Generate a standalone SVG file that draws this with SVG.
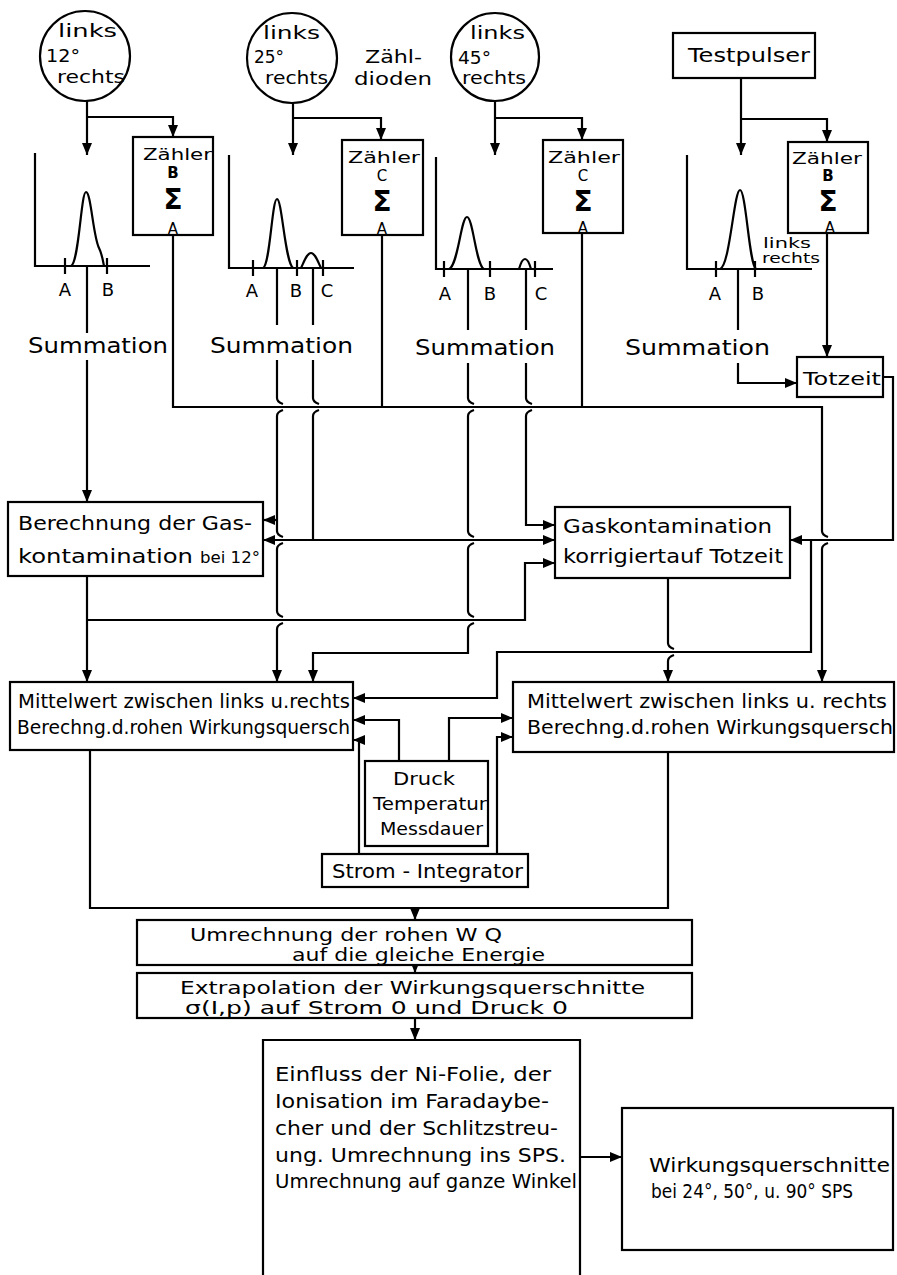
<svg xmlns="http://www.w3.org/2000/svg" width="897" height="1275" viewBox="0 0 897 1275">
<style>
.ln{fill:none;stroke:#000;stroke-width:2.2}
.bx{fill:#fff;stroke:#000;stroke-width:2.2}
.t{font-family:"DejaVu Sans","Liberation Sans",sans-serif;fill:#000}
.s14{font-size:14px}.s15{font-size:15px}.s16{font-size:16px}.s18{font-size:18px}.s19{font-size:19px}.s20{font-size:20px}.s21{font-size:21px}
.sig{font-size:28px;font-weight:bold}
.b{font-weight:bold}
.a{marker-end:url(#ah)}
</style>
<defs>
<marker id="ah" viewBox="0 0 12 10" refX="12" refY="5" markerWidth="12" markerHeight="10" markerUnits="userSpaceOnUse" orient="auto"><path d="M0,0 L12,5 L0,10 z" fill="#000"/></marker>
</defs>
<rect width="897" height="1275" fill="#fff"/>

<g id="connectors">
<path class="ln a" d="M87,101 V155"/>
<path class="ln a" d="M87,117 H173 V137"/>
<path class="ln a" d="M293,103 V155"/>
<path class="ln a" d="M293,118 H381 V140"/>
<path class="ln a" d="M495,101 V155"/>
<path class="ln a" d="M495,118 H582 V140"/>
<path class="ln a" d="M741,78 V155"/>
<path class="ln a" d="M741,119 H827 V142"/>
<path class="ln" d="M87,266 V333"/>
<path class="ln a" d="M87,360 V502"/>
<path class="ln" d="M277,268 V325 M313,268 V325"/>
<path class="ln a" d="M277,360 V398 q0,4 6,6 M283,410 q-6,2 -6,6 V531 q0,4 6,6 M283,543 q-6,2 -6,6 V611 q0,4 6,6 M283,623 q-6,2 -6,6 V682"/>
<path class="ln a" d="M277,520 H263"/>
<path class="ln" d="M313,360 V398 q0,4 6,6 M319,410 q-6,2 -6,6 V540"/>
<path class="ln a" d="M313,540 H263"/>
<path class="ln a" d="M313,540 H555"/>
<path class="ln" d="M468,269 V330 M526,269 V330"/>
<path class="ln a" d="M468,363 V398 q0,4 6,6 M474,410 q-6,2 -6,6 V531 q0,4 6,6 M474,543 q-6,2 -6,6 V611 q0,4 6,6 M474,623 q-6,2 -6,6 V653 H313 V682"/>
<path class="ln a" d="M526,363 V398 q0,4 6,6 M532,410 q-6,2 -6,6 V525 H555"/>
<path class="ln" d="M738,269 V330"/>
<path class="ln a" d="M738,363 V383 H797"/>
<path class="ln a" d="M173,235 V407 H822 V531 q0,4 6,6 M828,543 q-6,2 -6,6 V682"/>
<path class="ln" d="M382,235 V407 M582,233 V407"/>
<path class="ln a" d="M827,233 V357"/>
<path class="ln a" d="M883,377 H893 V540 H790"/>
<path class="ln a" d="M811,540 V652 H497 V698 H353"/>
<path class="ln a" d="M668,578 V643 q0,4 6,6 M674,655 q-6,2 -6,6 V682"/>
<path class="ln a" d="M87,576 V682"/>
<path class="ln a" d="M87,620 H525 V563 H555"/>
<path class="ln a" d="M399,761 V720 H353"/>
<path class="ln a" d="M449,761 V718 H513"/>
<path class="ln a" d="M359,854 V740 H353"/>
<path class="ln a" d="M497,854 V737 H513"/>
<path class="ln" d="M90,750 V908 H668 V752"/>
<path class="ln a" d="M415,908 V920"/>
<path class="ln a" d="M415,965 V973"/>
<path class="ln a" d="M415,1018 V1040"/>
<path class="ln a" d="M580,1157 H622"/>
</g>

<g id="det12">
<circle class="bx" cx="85" cy="56" r="45"/>
<text class="t s18" x="58" y="37" textLength="59" lengthAdjust="spacingAndGlyphs">links</text>
<text class="t s18" x="46" y="62" textLength="34" lengthAdjust="spacingAndGlyphs">12°</text>
<text class="t s18" x="57" y="83" textLength="68" lengthAdjust="spacingAndGlyphs">rechts</text>
</g>
<g id="det25">
<circle class="bx" cx="292" cy="58" r="45"/>
<text class="t s18" x="263" y="39" textLength="57" lengthAdjust="spacingAndGlyphs">links</text>
<text class="t s18" x="254" y="63" textLength="30" lengthAdjust="spacingAndGlyphs">25°</text>
<text class="t s18" x="265" y="84" textLength="63" lengthAdjust="spacingAndGlyphs">rechts</text>
</g>
<g id="label-zaehldioden">
<text class="t s18" x="365" y="63" textLength="57" lengthAdjust="spacingAndGlyphs">Zähl-</text>
<text class="t s18" x="354" y="85" textLength="78" lengthAdjust="spacingAndGlyphs">dioden</text>
</g>
<g id="det45">
<circle class="bx" cx="495" cy="57" r="44"/>
<text class="t s18" x="470" y="39" textLength="55" lengthAdjust="spacingAndGlyphs">links</text>
<text class="t s18" x="458" y="64" textLength="33" lengthAdjust="spacingAndGlyphs">45°</text>
<text class="t s18" x="462" y="84" textLength="64" lengthAdjust="spacingAndGlyphs">rechts</text>
</g>
<g id="testpulser">
<rect class="bx" x="673" y="33" width="142" height="45"/>
<text class="t s20" x="688" y="62" textLength="122" lengthAdjust="spacingAndGlyphs">Testpulser</text>
</g>

<g id="zaehler1">
<rect class="bx" x="133" y="137" width="80" height="98"/>
<text class="t s16" x="143" y="160" textLength="69" lengthAdjust="spacingAndGlyphs">Zähler</text>
<text class="t s15 b" x="173" y="178" text-anchor="middle">B</text>
<text class="t sig" x="173" y="209" text-anchor="middle">Σ</text>
<text class="t s15" x="173" y="234" text-anchor="middle">A</text>
</g>
<g id="zaehler2">
<rect class="bx" x="342" y="140" width="81" height="95"/>
<text class="t s16" x="348" y="163" textLength="72" lengthAdjust="spacingAndGlyphs">Zähler</text>
<text class="t s15" x="382" y="181" text-anchor="middle">C</text>
<text class="t sig" x="382" y="211" text-anchor="middle">Σ</text>
<text class="t s15" x="382" y="234" text-anchor="middle">A</text>
</g>
<g id="zaehler3">
<rect class="bx" x="543" y="140" width="80" height="93"/>
<text class="t s16" x="548" y="163" textLength="72" lengthAdjust="spacingAndGlyphs">Zähler</text>
<text class="t s15" x="583" y="181" text-anchor="middle">C</text>
<text class="t sig" x="583" y="211" text-anchor="middle">Σ</text>
<text class="t s15" x="583" y="233" text-anchor="middle">A</text>
</g>
<g id="zaehler4">
<rect class="bx" x="788" y="142" width="80" height="91"/>
<text class="t s16" x="792" y="164" textLength="70" lengthAdjust="spacingAndGlyphs">Zähler</text>
<text class="t s15 b" x="828" y="181" text-anchor="middle">B</text>
<text class="t sig" x="828" y="211" text-anchor="middle">Σ</text>
<text class="t s15" x="830" y="233" text-anchor="middle">A</text>
</g>

<g id="spektrum12">
<path class="ln" d="M35,153 V266 H150 M65,258 V274 M107,258 V274"/>
<path class="ln" d="M71,266 C79,263 81,192 86,192 C91,192 93,236 99,248 C102,254 103,261 104,266"/>
<text class="t s18" x="65" y="296" text-anchor="middle">A</text>
<text class="t s18" x="108" y="296" text-anchor="middle">B</text>
<text class="t s21" x="28" y="353" textLength="140" lengthAdjust="spacingAndGlyphs">Summation</text>
</g>
<g id="spektrum25">
<path class="ln" d="M229,155 V268 H354 M253,260 V276 M297,260 V276 M323,260 V276"/>
<path class="ln" d="M263,268 C270,266 272,199 277,199 C282,199 285,262 293,268"/>
<path class="ln" d="M301,268 C304,262 307,253 311,253 C315,253 318,262 321,268"/>
<text class="t s18" x="252" y="297" text-anchor="middle">A</text>
<text class="t s18" x="296" y="297" text-anchor="middle">B</text>
<text class="t s18" x="327" y="297" text-anchor="middle">C</text>
<text class="t s21" x="210" y="353" textLength="143" lengthAdjust="spacingAndGlyphs">Summation</text>
</g>
<g id="spektrum45">
<path class="ln" d="M436,157 V269 H553 M444,261 V277 M490,261 V277 M535,261 V277"/>
<path class="ln" d="M449,269 C458,266 461,217 467,217 C473,217 476,266 484,269"/>
<path class="ln" d="M519,269 C521,262 523,259 525,259 C527,259 529,262 531,269"/>
<text class="t s18" x="445" y="300" text-anchor="middle">A</text>
<text class="t s18" x="490" y="300" text-anchor="middle">B</text>
<text class="t s18" x="541" y="300" text-anchor="middle">C</text>
<text class="t s21" x="415" y="355" textLength="140" lengthAdjust="spacingAndGlyphs">Summation</text>
</g>
<g id="spektrum-test">
<path class="ln" d="M687,155 V269 H812 M716,261 V277 M755,261 V277"/>
<path class="ln" d="M720,269 C730,266 734,190 740,190 C746,190 749,264 756,269"/>
<text class="t s18" x="715" y="300" text-anchor="middle">A</text>
<text class="t s18" x="758" y="300" text-anchor="middle">B</text>
<text class="t s14" x="763" y="248" textLength="48" lengthAdjust="spacingAndGlyphs">links</text>
<text class="t s14" x="762" y="263" textLength="58" lengthAdjust="spacingAndGlyphs">rechts</text>
<text class="t s21" x="625" y="355" textLength="145" lengthAdjust="spacingAndGlyphs">Summation</text>
</g>

<g id="totzeit">
<rect class="bx" x="797" y="357" width="86" height="40"/>
<text class="t s18" x="803" y="385" textLength="78" lengthAdjust="spacingAndGlyphs">Totzeit</text>
</g>

<g id="berechnung-gas">
<rect class="bx" x="8" y="502" width="255" height="74"/>
<text class="t s20" x="18" y="530" textLength="234" lengthAdjust="spacingAndGlyphs">Berechnung der Gas-</text>
<text class="t s20" x="18" y="563" textLength="175" lengthAdjust="spacingAndGlyphs">kontamination</text>
<text class="t s16" x="200" y="563" textLength="60" lengthAdjust="spacingAndGlyphs">bei 12°</text>
</g>
<g id="gaskontamination">
<rect class="bx" x="555" y="507" width="235" height="71"/>
<text class="t s20" x="563" y="533" textLength="209" lengthAdjust="spacingAndGlyphs">Gaskontamination</text>
<text class="t s20" x="563" y="563" textLength="220" lengthAdjust="spacingAndGlyphs">korrigiertauf Totzeit</text>
</g>

<g id="mittelwert-links">
<rect class="bx" x="10" y="682" width="343" height="68"/>
<text class="t s19" x="18" y="708" textLength="332" lengthAdjust="spacingAndGlyphs">Mittelwert zwischen links u.rechts</text>
<text class="t s19" x="17" y="734" textLength="333" lengthAdjust="spacingAndGlyphs">Berechng.d.rohen Wirkungsquersch</text>
</g>
<g id="mittelwert-rechts">
<rect class="bx" x="513" y="682" width="381" height="70"/>
<text class="t s19" x="527" y="708" textLength="360" lengthAdjust="spacingAndGlyphs">Mittelwert zwischen links u. rechts</text>
<text class="t s19" x="527" y="734" textLength="366" lengthAdjust="spacingAndGlyphs">Berechng.d.rohen Wirkungsquersch</text>
</g>

<g id="druck">
<rect class="bx" x="365" y="761" width="123" height="85"/>
<text class="t s18" x="393" y="785" textLength="62" lengthAdjust="spacingAndGlyphs">Druck</text>
<text class="t s18" x="373" y="810" textLength="114" lengthAdjust="spacingAndGlyphs">Temperatur</text>
<text class="t s18" x="380" y="835" textLength="103" lengthAdjust="spacingAndGlyphs">Messdauer</text>
</g>
<g id="strom-integrator">
<rect class="bx" x="322" y="854" width="206" height="33"/>
<text class="t s19" x="332" y="878" textLength="191" lengthAdjust="spacingAndGlyphs">Strom - Integrator</text>
</g>

<g id="umrechnung">
<rect class="bx" x="137" y="920" width="555" height="45"/>
<text class="t s18" x="190" y="941" textLength="312" lengthAdjust="spacingAndGlyphs">Umrechnung der rohen W Q</text>
<text class="t s18" x="292" y="961" textLength="253" lengthAdjust="spacingAndGlyphs">auf die gleiche Energie</text>
</g>
<g id="extrapolation">
<rect class="bx" x="137" y="973" width="555" height="45"/>
<text class="t s18" x="180" y="994" textLength="465" lengthAdjust="spacingAndGlyphs">Extrapolation der Wirkungsquerschnitte</text>
<text class="t s18" x="185" y="1014" textLength="383" lengthAdjust="spacingAndGlyphs">σ(I,p) auf Strom 0 und Druck 0</text>
</g>
<g id="einfluss">
<path class="bx" d="M263,1276 V1040 H580 V1276"/>
<text class="t s20" x="275" y="1081" textLength="276" lengthAdjust="spacingAndGlyphs">Einfluss der Ni-Folie, der</text>
<text class="t s20" x="275" y="1108" textLength="274" lengthAdjust="spacingAndGlyphs">Ionisation im Faradaybe-</text>
<text class="t s20" x="275" y="1135" textLength="283" lengthAdjust="spacingAndGlyphs">cher und der Schlitzstreu-</text>
<text class="t s20" x="275" y="1162" textLength="291" lengthAdjust="spacingAndGlyphs">ung. Umrechnung ins SPS.</text>
<text class="t s20" x="275" y="1188" textLength="302" lengthAdjust="spacingAndGlyphs">Umrechnung auf ganze Winkel</text>
</g>
<g id="ergebnis">
<rect class="bx" x="622" y="1108" width="271" height="142"/>
<text class="t s19" x="649" y="1172" textLength="241" lengthAdjust="spacingAndGlyphs">Wirkungsquerschnitte</text>
<text class="t s19" x="651" y="1198" textLength="202" lengthAdjust="spacingAndGlyphs">bei 24°, 50°, u. 90° SPS</text>
</g>
</svg>
